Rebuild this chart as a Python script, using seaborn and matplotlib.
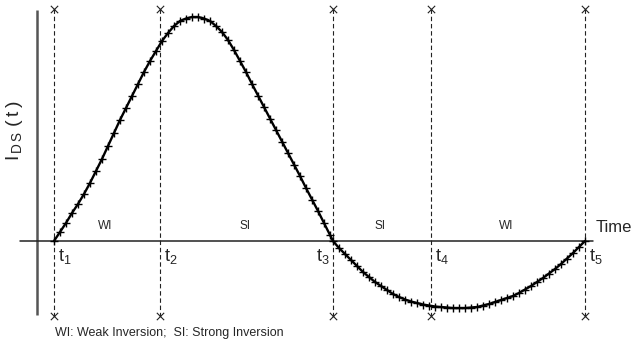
import matplotlib
matplotlib.use("Agg")
import matplotlib.pyplot as plt
import seaborn as sns
import pandas as pd

# ---- data (arbitrary units) ----
time = [0, 6, 12, 18, 24, 30, 36, 42, 48, 54, 60, 66, 72, 78, 84, 90, 96, 102,
        108, 114, 120, 126, 132, 138, 144, 150, 156, 162, 168, 174, 180, 186,
        192, 198, 204, 210, 216, 222, 228, 234, 240, 246, 252, 258, 264, 270,
        276, 279,
        285, 291, 297, 303, 309, 315, 321, 327, 333, 339, 345, 351, 357, 363,
        369, 375, 381, 387, 393, 399, 405, 411, 417, 423, 429, 435, 441, 447,
        453, 459, 465, 471, 477, 483, 489, 495, 501, 507, 513, 519, 525, 531]
current = [0, 9, 18, 28, 37, 47, 58, 70, 82, 95, 108, 121, 133, 145, 157, 169,
           180, 190, 200, 208, 215, 220, 222.5, 224, 224, 222.5, 220, 215, 209,
           201, 191, 180, 169, 157, 145.5, 134, 122.5, 111, 99.5, 88, 76.5, 65,
           53, 41.5, 30, 18, 6, 0,
           -7, -13, -19, -25, -31, -36, -41, -45, -49, -53, -56, -58.5, -60.5,
           -62, -63.5, -64.5, -65.5, -66, -66.5, -67, -67, -67, -66.5, -66,
           -64.5, -63, -61, -59, -57, -55, -52, -48.5, -45, -41, -37, -32.5,
           -28, -23, -17.5, -12, -6, 0]
boundaries = [0, 106, 279, 377, 531]
boundary_labels = [r"$\mathregular{t_1}$", r"$\mathregular{t_2}$", r"$\mathregular{t_3}$",
                   r"$\mathregular{t_4}$", r"$\mathregular{t_5}$"]
region_labels = ["WI", "SI", "SI", "WI"]
note = "WI: Weak Inversion;  SI: Strong Inversion"
xlabel = "Time"
ylabel = r"$\mathregular{I_{\,D\,S}\;(\,t\,)}$"

sns.set_style("white")
plt.rcParams["font.family"] = ["Liberation Sans", "DejaVu Sans"]
plt.rcParams["mathtext.fontset"] = "custom"
plt.rcParams["mathtext.rm"] = "Liberation Sans"

fig = plt.figure(figsize=(6.33, 3.45), dpi=100)
ax = fig.add_axes([0, 0, 1, 1])
ax.set_xlim(-54, 579)
ax.set_ylim(-104, 241)
ax.axis("off")

df = pd.DataFrame({"time": time, "current": current})

# axes lines
ax.plot([-17, -17], [231, -74], color="#555555", lw=1.8, solid_capstyle="butt")
ax.plot([-34, 539], [0, 0], color="#222222", lw=1.1)

# boundaries
top, bot = 232, -75
for b in boundaries:
    ax.plot([b, b], [top, bot], color="#222222", lw=0.8, ls=(0, (4, 2.5)))
bdf = pd.DataFrame({"t": boundaries * 2, "y": [top] * 5 + [bot] * 5})
sns.scatterplot(data=bdf, x="t", y="y", marker="x", s=28, color="#222222",
                linewidth=0.8, ax=ax, zorder=4)

# curve
sns.lineplot(data=df, x="time", y="current", color="black", lw=1.7,
             marker="+", markersize=6, markeredgewidth=1.0,
             markeredgecolor="black", estimator=None, sort=False, ax=ax, zorder=5)

# boundary labels
offsets = [(4, "left"), (4, "left"), (-3, "right"), (4, "left"), (4, "left")]
for b, lab, (dx, ha) in zip(boundaries, boundary_labels, offsets):
    ax.text(b + dx, -15, lab, fontsize=13, ha=ha, va="center")

# region labels
for i, lab in enumerate(region_labels):
    mid = (boundaries[i] + boundaries[i + 1]) / 2 - 2
    ax.text(mid, 15, lab, fontsize=8.5, ha="center", va="center")

ax.text(542, 13, xlabel, fontsize=12, ha="left", va="center")
ax.text(-39, 110, ylabel, fontsize=14, ha="center", va="center", rotation=90)
ax.text(1, -92, note, fontsize=9, ha="left", va="center")

fig.savefig("out.png", dpi=100)
